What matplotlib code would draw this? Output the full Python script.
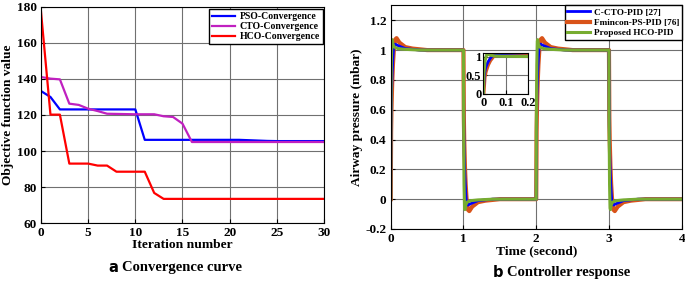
import matplotlib.pyplot as plt
import numpy as np
from matplotlib.ticker import FormatStrFormatter

# ---- (a) convergence curves ----
iteraciones = list(range(31))
pso = [133.3, 130, 123.1, 123.1, 123.1, 123.1, 123.1, 123.1, 123.1, 123.1, 123.1,
       106.2, 106.2, 106.2, 106.2, 106.2, 106.2, 106.2, 106.2, 106.2, 106.2, 106.2,
       106.0, 105.8, 105.6, 105.5, 105.5, 105.5, 105.5, 105.5, 105.5]
cto = [141.1, 140.2, 139.8, 126.3, 125.6, 123.5, 122.2, 120.7, 120.6, 120.5, 120.4,
       120.4, 120.4, 119.3, 118.9, 115.2, 105.0, 105.0, 105.0, 105.0, 105.0, 105.0,
       105.0, 105.0, 105.0, 105.0, 105.0, 105.0, 105.0, 105.0, 105.0]
hco = [177.2, 120.2, 120.2, 93.0, 93.0, 93.0, 91.9, 91.9, 88.5, 88.5, 88.5,
       88.5, 76.7, 73.4, 73.4, 73.4, 73.4, 73.4, 73.4, 73.4, 73.4, 73.4,
       73.4, 73.4, 73.4, 73.4, 73.4, 73.4, 73.4, 73.4, 73.4]

# ---- (b) controller response, read per edge (time after edge, value) ----
flancos = [0, 1, 2, 3]
subida_t = {
    "cto": [0, 0.004, 0.01, 0.02, 0.03, 0.04, 0.06, 0.1, 0.2, 0.4, 1.0],
    "fmin": [0, 0.005, 0.01, 0.02, 0.03, 0.045, 0.06, 0.08, 0.12, 0.2, 0.3, 0.5, 1.0],
    "hco": [0, 0.002, 0.008, 0.015, 0.02, 0.03, 0.05, 0.1, 0.2, 0.4, 1.0],
}
subida_y = {
    "cto": [0, 0.5, 0.7, 0.85, 0.95, 1.02, 1.04, 1.03, 1.01, 1.0, 1.0],
    "fmin": [0, 0.45, 0.6, 0.78, 0.9, 1.02, 1.07, 1.08, 1.05, 1.02, 1.01, 1.0, 1.0],
    "hco": [0, 0.5, 0.9, 1.06, 1.07, 1.04, 1.02, 1.01, 1.005, 1.0, 1.0],
}
bajada_y = {
    "cto": [1, 0.5, 0.3, 0.15, 0.05, -0.02, -0.04, -0.03, -0.01, 0.0, 0.0],
    "fmin": [1, 0.55, 0.4, 0.22, 0.1, -0.02, -0.07, -0.08, -0.05, -0.02, -0.01, 0.0, 0.0],
    "hco": [1, 0.5, 0.1, -0.06, -0.07, -0.04, -0.02, -0.01, -0.005, 0.0, 0.0],
}

etiquetas = ["C-CTO-PID [27]", "Fmincon-PS-PID [76]", "Proposed HCO-PID"]
claves = ["cto", "fmin", "hco"]
colores = {"cto": "#0000ff", "fmin": "#d95319", "hco": "#77ac30"}
grosor = {"cto": 2.0, "fmin": 3.0, "hco": 2.2}

serif = "Liberation Serif"


def serie(clave):
    t, y = [], []
    for i, f in enumerate(flancos):
        t += [f + v for v in subida_t[clave]]
        y += subida_y[clave] if i % 2 == 0 else bajada_y[clave]
    return np.array(t), np.array(y)


def estilo(ax, size=9.5):
    ax.grid(True, color="#707070", linewidth=0.8)
    ax.tick_params(direction="in", length=3, pad=3, labelsize=size)
    for lbl in ax.get_xticklabels() + ax.get_yticklabels():
        lbl.set_fontfamily(serif)
        lbl.set_fontweight("bold")
    for s in ax.spines.values():
        s.set_linewidth(0.8)


fig = plt.figure(figsize=(6.85, 2.82), dpi=100)

# panel a
ax1 = fig.add_axes([0.0599, 0.2092, 0.413, 0.766])
ax1.plot(iteraciones, pso, color="#0000ff", lw=1.6, label="PSO-Convergence")
ax1.plot(iteraciones, cto, color="#c020c0", lw=1.6, label="CTO-Convergence")
ax1.plot(iteraciones, hco, color="#ff0000", lw=1.6, label="HCO-Convergence")
ax1.set_xlim(0, 30)
ax1.set_ylim(60, 180)
ax1.set_xticks(range(0, 31, 5))
ax1.set_yticks(range(60, 181, 20))
estilo(ax1)
ax1.set_xlabel("Iteration number", fontfamily=serif, fontweight="bold", fontsize=9.7, labelpad=0)
ax1.set_ylabel("Objective function value", fontfamily=serif, fontweight="bold", fontsize=9.6, labelpad=2)
ax1.legend(loc="upper right", prop={"family": serif, "weight": "bold", "size": 7},
           fancybox=False, edgecolor="black", framealpha=1, handlelength=2.4,
           borderpad=0.3, labelspacing=0.1, handletextpad=0.4,
           bbox_to_anchor=(0.995, 0.99), borderaxespad=0)

# panel b
ax2 = fig.add_axes([0.5704, 0.188, 0.4248, 0.793])
lineas = {}
for k in ["fmin", "cto", "hco"]:
    t, y = serie(k)
    (lineas[k],) = ax2.plot(t, y, color=colores[k], lw=grosor[k])
ax2.set_xlim(0, 4)
ax2.set_ylim(-0.2, 1.3)
ax2.set_xticks(range(0, 5))
ax2.set_yticks(np.arange(-0.2, 1.21, 0.2))
ax2.yaxis.set_major_formatter(FormatStrFormatter("%g"))
estilo(ax2)
ax2.set_xlabel("Time (second)", fontfamily=serif, fontweight="bold", fontsize=9.7, labelpad=0)
ax2.set_ylabel("Airway pressure (mbar)", fontfamily=serif, fontweight="bold", fontsize=9.6, labelpad=2)
ax2.legend([lineas[k] for k in claves], etiquetas, loc="upper right",
           prop={"family": serif, "weight": "bold", "size": 6.7},
           fancybox=False, edgecolor="black", framealpha=1, handlelength=2.4,
           borderpad=0.3, labelspacing=0.2, handletextpad=0.4,
           bbox_to_anchor=(1.0, 1.0), borderaxespad=0)

# inset
ax3 = fig.add_axes([0.7056, 0.6667, 0.0657, 0.1454])
for k in ["fmin", "cto", "hco"]:
    t, y = serie(k)
    ax3.plot(t, y, color=colores[k], lw=grosor[k])
ax3.set_xlim(0, 0.2)
ax3.set_ylim(0, 1.1)
ax3.set_xticks([0, 0.1, 0.2])
ax3.set_yticks([0, 0.5, 1])
ax3.xaxis.set_major_formatter(FormatStrFormatter("%g"))
ax3.yaxis.set_major_formatter(FormatStrFormatter("%g"))
estilo(ax3, size=9)
ax3.tick_params(axis="x", pad=2.5)
ax3.tick_params(axis="y", pad=1.5)

# captions
fig.text(0.158, 0.053, "a", fontsize=10.5, fontweight="bold", va="center", fontfamily="DejaVu Sans")
fig.text(0.178, 0.053, "Convergence curve", fontsize=10.5, fontweight="bold", va="center", fontfamily=serif)
fig.text(0.719, 0.035, "b", fontsize=10.5, fontweight="bold", va="center", fontfamily="DejaVu Sans")
fig.text(0.740, 0.035, "Controller response", fontsize=10.5, fontweight="bold", va="center", fontfamily=serif)

fig.savefig("out.png", dpi=100)
